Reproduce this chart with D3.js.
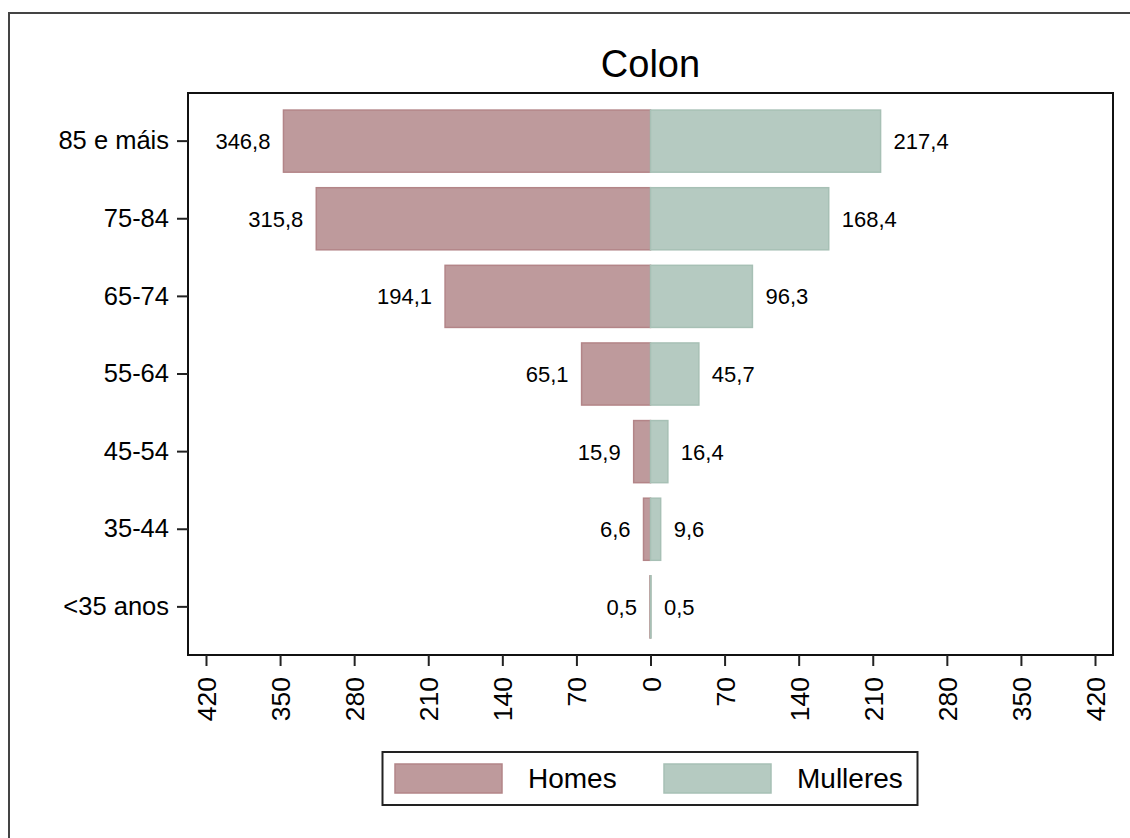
<!DOCTYPE html>
<html>
<head>
<meta charset="utf-8">
<script src="https://cdn.jsdelivr.net/npm/d3@7"></script>
<style>
  body { margin: 0; background: #fff; }
  text { font-family: "Liberation Sans", Arial, sans-serif; fill: #000; }
</style>
</head>
<body>
<div id="chart"></div>
<script>
// data
var ageGroups = ['85 e máis', '75-84', '65-74', '55-64', '45-54', '35-44', '<35 anos'];
var homes = [346.8, 315.8, 194.1, 65.1, 15.9, 6.6, 0.5];
var mulleres = [217.4, 168.4, 96.3, 45.7, 16.4, 9.6, 0.5];
var tickValues = [-420, -350, -280, -210, -140, -70, 0, 70, 140, 210, 280, 350, 420];
var seriesNames = ['Homes', 'Mulleres'];

var width = 1130;
var height = 838;
var plot = { left: 188, right: 1113, top: 93, bottom: 655 };
var homesFill = '#be9a9c', homesStroke = '#b38588';
var mullFill = '#b5cac1', mullStroke = '#a7c0b5';

var svg = d3.select('#chart').append('svg')
  .attr('width', width)
  .attr('height', height);

// outer frame, runs off the picture on the right and bottom
svg.append('rect')
  .attr('x', 9).attr('y', 13)
  .attr('width', 1300).attr('height', 1000)
  .attr('fill', 'none')
  .attr('stroke', '#444')
  .attr('stroke-width', 2);

var x = d3.scaleLinear().domain([-437, 437]).range([plot.left, plot.right]);
var y = d3.scaleBand().domain(ageGroups).range([plot.top, plot.bottom])
  .paddingInner(0.2).paddingOuter(0.22);

// title
svg.append('text')
  .attr('x', (plot.left + plot.right) / 2)
  .attr('y', 77)
  .attr('text-anchor', 'middle')
  .style('font-size', '38px')
  .text('Colon');

var rows = ageGroups.map(function (g, i) { return { group: g, h: homes[i], m: mulleres[i] }; });

// bars
svg.selectAll('rect.homes')
  .data(rows)
  .enter().append('rect')
  .attr('class', 'homes')
  .attr('x', function (d) { return x(-d.h); })
  .attr('y', function (d) { return y(d.group); })
  .attr('width', function (d) { return x(0) - x(-d.h); })
  .attr('height', y.bandwidth())
  .attr('fill', homesFill)
  .attr('stroke', homesStroke)
  .attr('stroke-width', 1.5);

svg.selectAll('rect.mull')
  .data(rows)
  .enter().append('rect')
  .attr('class', 'mull')
  .attr('x', x(0))
  .attr('y', function (d) { return y(d.group); })
  .attr('width', function (d) { return x(d.m) - x(0); })
  .attr('height', y.bandwidth())
  .attr('fill', mullFill)
  .attr('stroke', mullStroke)
  .attr('stroke-width', 1.5);

var fmt = function (v) { return d3.format('.1f')(v).replace('.', ','); };

// value labels
svg.selectAll('text.lh')
  .data(rows)
  .enter().append('text')
  .attr('x', function (d) { return x(-d.h) - 13; })
  .attr('y', function (d) { return y(d.group) + y.bandwidth() / 2; })
  .attr('dy', '0.36em')
  .attr('text-anchor', 'end')
  .style('font-size', '22px')
  .text(function (d) { return fmt(d.h); });

svg.selectAll('text.lm')
  .data(rows)
  .enter().append('text')
  .attr('x', function (d) { return x(d.m) + 13; })
  .attr('y', function (d) { return y(d.group) + y.bandwidth() / 2; })
  .attr('dy', '0.36em')
  .attr('text-anchor', 'start')
  .style('font-size', '22px')
  .text(function (d) { return fmt(d.m); });

// plot frame
svg.append('rect')
  .attr('x', plot.left).attr('y', plot.top)
  .attr('width', plot.right - plot.left)
  .attr('height', plot.bottom - plot.top)
  .attr('fill', 'none')
  .attr('stroke', '#111')
  .attr('stroke-width', 2);

// y axis
var yAxis = svg.append('g')
  .attr('transform', 'translate(' + plot.left + ',0)')
  .call(d3.axisLeft(y).tickSize(11).tickPadding(8));
yAxis.select('.domain').remove();
yAxis.selectAll('.tick line').attr('stroke', '#222').attr('stroke-width', 2);
yAxis.selectAll('.tick text')
  .style('font-size', '25.5px')
  .style('font-family', '"Liberation Sans", Arial, sans-serif')
  .attr('fill', '#000');

// x axis, absolute values, rotated labels
var xAxis = svg.append('g')
  .attr('transform', 'translate(0,' + plot.bottom + ')')
  .call(d3.axisBottom(x).tickValues(tickValues).tickSize(11)
    .tickFormat(function (d) { return Math.abs(d); }));
xAxis.select('.domain').remove();
xAxis.selectAll('.tick line').attr('stroke', '#222').attr('stroke-width', 2);
xAxis.selectAll('.tick text')
  .attr('transform', 'rotate(-90)')
  .attr('x', -22)
  .attr('y', 0)
  .attr('dy', '0.36em')
  .attr('text-anchor', 'end')
  .style('font-size', '26.5px')
  .style('font-family', '"Liberation Sans", Arial, sans-serif')
  .attr('fill', '#000');

// legend
var legend = svg.append('g');
legend.append('rect')
  .attr('x', 382.5).attr('y', 752)
  .attr('width', 535).attr('height', 53)
  .attr('fill', '#fff')
  .attr('stroke', '#222')
  .attr('stroke-width', 2);

var legX = [395, 664];
seriesNames.forEach(function (name, i) {
  legend.append('rect')
    .attr('x', legX[i]).attr('y', 764)
    .attr('width', 107).attr('height', 29)
    .attr('fill', i === 0 ? homesFill : mullFill)
    .attr('stroke', i === 0 ? homesStroke : mullStroke)
    .attr('stroke-width', 1.5);
  legend.append('text')
    .attr('x', legX[i] + 133)
    .attr('y', 788)
    .style('font-size', '28px')
    .text(name);
});
</script>
</body>
</html>
